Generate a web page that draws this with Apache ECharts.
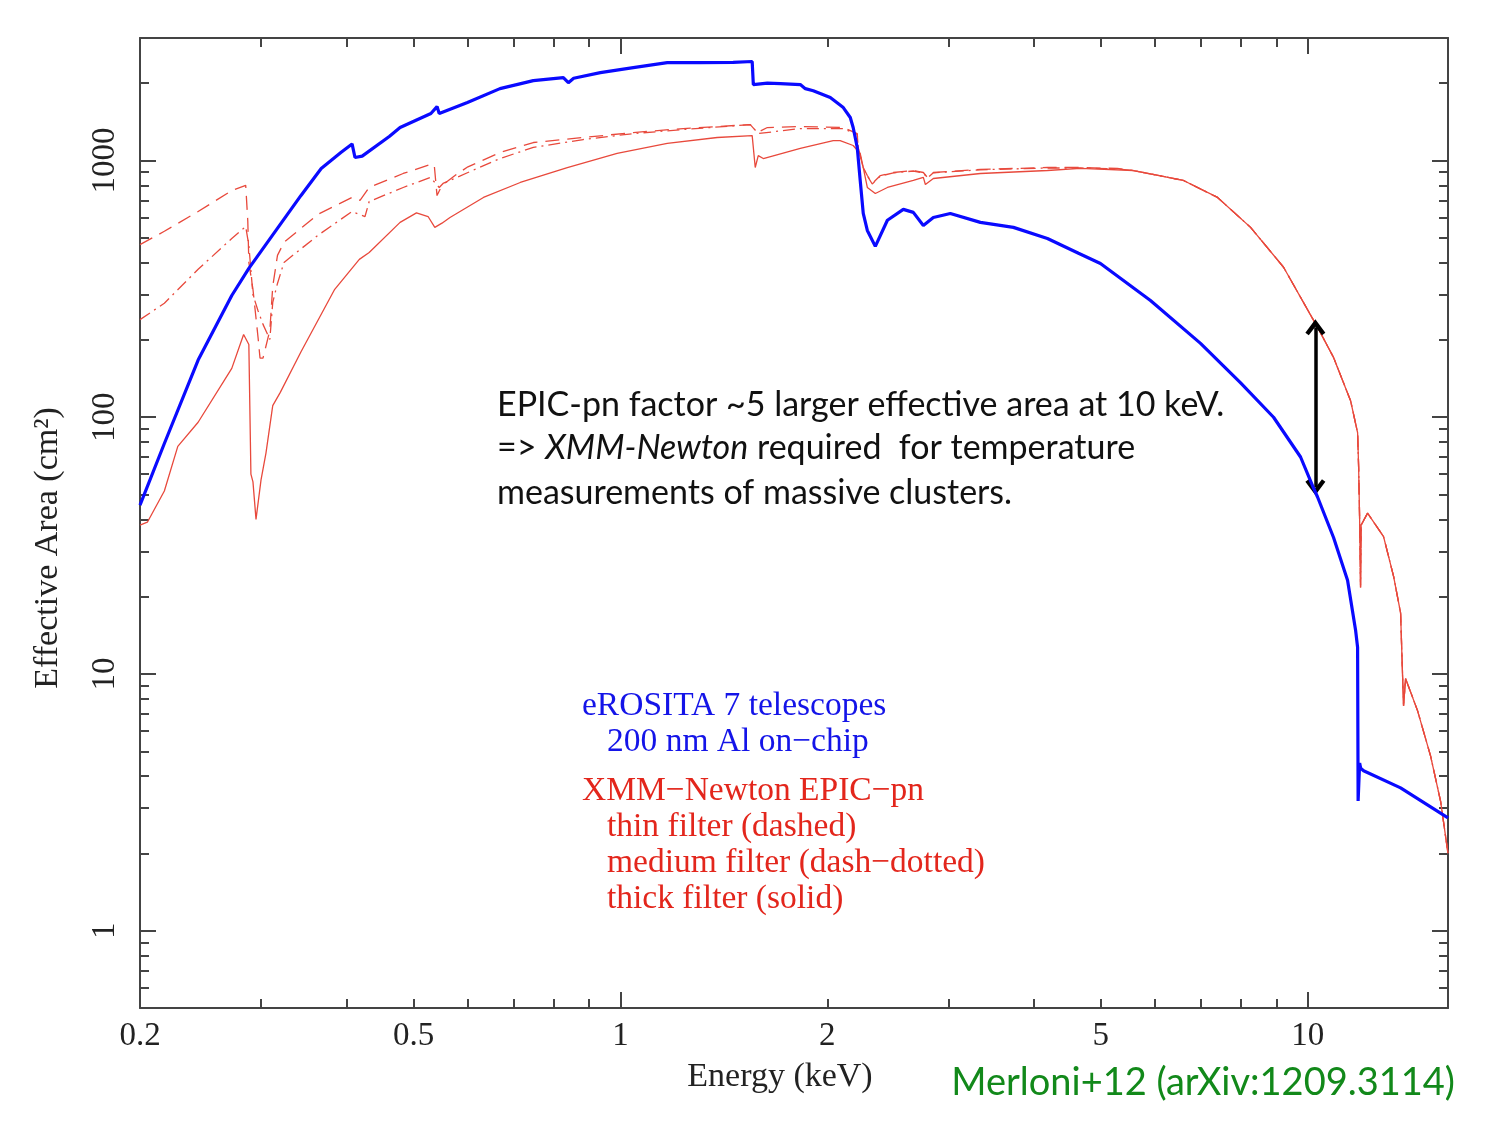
<!DOCTYPE html>
<html>
<head>
<meta charset="utf-8">
<script src="https://cdn.jsdelivr.net/npm/echarts@6.0.0/dist/echarts.min.js"></script>
<style>
html,body{margin:0;padding:0;background:#fff}
#main{width:1500px;height:1125px}
</style>
</head>
<body>
<div id="main"></div>
<script>
// eROSITA, 7 telescopes, 200 nm Al on-chip
var eroE = [0.2, 0.217, 0.243, 0.272, 0.288, 0.305, 0.343, 0.367, 0.392, 0.407, 0.411, 0.421, 0.461, 0.478, 0.53, 0.541, 0.545, 0.599, 0.668, 0.747, 0.826, 0.84, 0.855, 0.935, 1.044, 1.17, 1.307, 1.459, 1.555, 1.561, 1.636, 1.709, 1.827, 1.858, 1.908, 2.02, 2.11, 2.16, 2.181, 2.211, 2.233, 2.256, 2.287, 2.349, 2.446, 2.58, 2.668, 2.759, 2.853, 3.02, 3.34, 3.731, 4.181, 4.64, 4.994, 5.905, 6.983, 7.987, 8.919, 9.763, 10.197, 10.335, 10.904, 11.428, 11.74, 11.819, 11.84, 11.9, 11.94, 12.058, 13.65, 16];
var eroA = [45.5, 79, 167, 298, 380, 471, 731, 931, 1074, 1160, 1027, 1040, 1240, 1344, 1525, 1622, 1524, 1683, 1905, 2047, 2104, 2010, 2090, 2200, 2300, 2405, 2405, 2410, 2430, 1975, 2000, 1992, 1975, 1905, 1870, 1758, 1607, 1470, 1344, 1124, 836, 622, 534, 463, 585, 645, 628, 558, 600, 622, 574, 549, 497, 435, 397, 285, 194, 136, 100, 70, 53, 48.9, 34, 23.2, 14.8, 12.7, 3.2, 4.5, 4.3, 4.2, 3.6, 2.75];

// XMM-Newton EPIC-pn, common high-energy part of all three filters
var pnTailE = [6.596, 7.393, 8.258, 9.223, 10.335, 10.904, 11.544, 11.82, 11.86, 11.9, 11.937, 11.96, 12.221, 12.893, 13.334, 13.65, 13.742, 13.787, 13.879, 14.447, 15.091, 15.606, 16];
var pnTailA = [836, 718, 549, 384, 224, 171, 116, 87, 64, 40, 21.7, 38, 42.3, 34.3, 24, 17.3, 9.8, 7.5, 9.6, 7.2, 4.8, 3.2, 2.0];

// thin filter (dashed)
var thinE = [0.2, 0.217, 0.243, 0.272, 0.285, 0.287, 0.288, 0.292, 0.297, 0.299, 0.302, 0.309, 0.312, 0.317, 0.324, 0.363, 0.407, 0.418, 0.431, 0.483, 0.529, 0.536, 0.541, 0.55, 0.58, 0.6, 0.668, 0.747, 0.883, 1.044, 1.234, 1.545, 1.582, 1.636, 1.827, 2.11, 2.211, 2.218, 2.256, 2.287, 2.325, 2.389, 2.496, 2.668, 2.759, 2.797, 2.853, 3.34, 4.181, 4.671, 5.286, 5.577];
var thinA = [470, 530, 633, 764, 800, 579, 401, 315, 205, 170, 170, 218, 323, 427, 480, 617, 718, 700, 785, 890, 965, 960, 730, 800, 890, 945, 1074, 1175, 1229, 1285, 1332, 1380, 1285, 1344, 1356, 1344, 1273, 1124, 939, 874, 814, 874, 898, 914, 898, 859, 898, 923, 939, 939, 931, 914];

// medium filter (dash-dotted)
var medE = [0.2, 0.217, 0.243, 0.272, 0.285, 0.288, 0.292, 0.297, 0.302, 0.309, 0.312, 0.317, 0.324, 0.363, 0.407, 0.425, 0.431, 0.483, 0.529, 0.545, 0.552, 0.6, 0.668, 0.747, 0.883, 1.044, 1.234, 1.545, 1.587, 1.827, 2.11, 2.211, 2.218, 2.256, 2.287, 2.325, 2.389, 2.496, 2.668, 2.759, 2.797, 2.853, 3.34, 4.181, 4.671, 5.286, 5.577];
var medA = [240, 278, 377, 497, 553, 467, 300, 260, 230, 201, 280, 332, 401, 511, 633, 605, 692, 785, 859, 785, 814, 898, 1018, 1124, 1207, 1273, 1320, 1380, 1273, 1332, 1332, 1265, 1120, 935, 870, 810, 870, 895, 910, 895, 855, 895, 920, 935, 935, 928, 914];

// thick filter (solid)
var thickE = [0.2, 0.205, 0.217, 0.227, 0.243, 0.272, 0.283, 0.288, 0.29, 0.292, 0.295, 0.3, 0.305, 0.312, 0.32, 0.343, 0.384, 0.417, 0.431, 0.478, 0.505, 0.525, 0.537, 0.55, 0.565, 0.632, 0.715, 0.837, 0.989, 1.17, 1.383, 1.555, 1.571, 1.587, 1.614, 1.827, 2.04, 2.088, 2.181, 2.233, 2.256, 2.287, 2.349, 2.446, 2.668, 2.759, 2.778, 2.853, 3.34, 4.181, 4.671, 5.577];
var thickA = [38, 39, 51.6, 77, 95.6, 155, 210, 192, 60, 56, 40, 57, 72.5, 111, 125, 180, 315, 412, 438, 574, 625, 605, 549, 570, 600, 718, 821, 939, 1065, 1165, 1229, 1250, 939, 1045, 1018, 1114, 1196, 1196, 1144, 1065, 939, 785, 744, 785, 836, 859, 806, 851, 890, 914, 931, 914];

// arrow at 10 keV
var arrowE = 10.26;
var arrowA = [224, 53.4];

// axes
var xRange = [0.2, 16];
var yRange = [0.5, 3000];
var xTickLabels = [0.2, 0.5, 1, 2, 5, 10];
var xMajorTicks = [1, 10];
var xMinorTicks = [0.3, 0.4, 0.5, 0.6, 0.7, 0.8, 0.9, 2, 3, 4, 5, 6, 7, 8, 9];
var yTickLabels = [1, 10, 100, 1000];
var yMajorTicks = [1, 10, 100, 1000];
var yMinorTicks = [0.6, 0.7, 0.8, 0.9, 2, 3, 4, 5, 6, 7, 8, 9, 20, 30, 40, 50, 60, 70, 80, 90, 200, 300, 400, 500, 600, 700, 800, 900, 2000];

var lg = function(v){ return Math.log10(v); };
function pts(E, A){
	return E.map(function(e, i){ return [lg(e), lg(A[i])]; });
}
var fmt = function(v){ return String(+Math.pow(10, v).toPrecision(3)); };

var serif = '"Liberation Serif", "Times New Roman", serif';
var sans = 'Lato, "Open Sans", sans-serif';
var frame = '#444';
var red = '#e8493c';
var txtRed = '#e3261c';
var blue = '#0a0aff';

function axis(dim, pos, ticks, len, withLine, labels){
	var range = dim == 'x' ? xRange : yRange;
	return {
		type: 'value',
		position: pos,
		min: lg(range[0]),
		max: lg(range[1]),
		splitLine: {show: false},
		axisLine: {show: withLine, onZero: false, lineStyle: {color: frame, width: 2}},
		axisTick: {show: true, inside: true, length: len, customValues: ticks.map(lg), lineStyle: {color: frame, width: 2}},
		axisLabel: labels ? {
			customValues: labels.map(lg),
			formatter: fmt,
			fontFamily: serif,
			fontSize: 33,
			color: '#222',
			margin: dim == 'x' ? 12 : 18,
			rotate: dim == 'x' ? 0 : 90
		} : {show: false}
	};
}

var myChart = echarts.init(document.getElementById('main'));
var option = {
	animation: false,
	backgroundColor: '#fff',
	grid: {left: 140, right: 52, top: 38, bottom: 117, containLabel: false, outerBoundsMode: 'none'},
	xAxis: [
		axis('x', 'bottom', xMajorTicks, 16, true, xTickLabels),
		axis('x', 'bottom', xMinorTicks, 9, false),
		axis('x', 'top', xMajorTicks, 16, true),
		axis('x', 'top', xMinorTicks, 9, false)
	],
	yAxis: [
		axis('y', 'left', yMajorTicks, 16, true, yTickLabels),
		axis('y', 'left', yMinorTicks, 9, false),
		axis('y', 'right', yMajorTicks, 16, true),
		axis('y', 'right', yMinorTicks, 9, false)
	],
	series: [
		{
			name: 'thick filter', type: 'line', symbol: 'none', silent: true,
			data: pts(thickE.concat(pnTailE), thickA.concat(pnTailA)),
			lineStyle: {color: red, width: 1.3}
		},
		{
			name: 'medium filter', type: 'line', symbol: 'none', silent: true,
			data: pts(medE.concat(pnTailE), medA.concat(pnTailA)),
			lineStyle: {color: red, width: 1.3, type: [12, 5, 2, 5]}
		},
		{
			name: 'thin filter', type: 'line', symbol: 'none', silent: true,
			data: pts(thinE.concat(pnTailE), thinA.concat(pnTailA)),
			lineStyle: {color: red, width: 1.3, type: [14, 8]}
		},
		{
			name: 'eROSITA', type: 'line', symbol: 'none', silent: true,
			data: pts(eroE, eroA),
			lineStyle: {color: blue, width: 3.2},
			z: 5
		},
		{
			name: 'arrow', type: 'line', data: [], silent: true,
			markLine: {
				silent: true,
				symbol: ['path://M5,0 L10,7.5 L8.3,9 L5,4.2 L1.7,9 L0,7.5 Z', 'path://M5,0 L10,7.5 L8.3,9 L5,4.2 L1.7,9 L0,7.5 Z'],
				symbolSize: [20, 16],
				label: {show: false},
				lineStyle: {color: '#000', width: 3.5, type: 'solid'},
				data: [[{coord: [lg(arrowE), lg(arrowA[0])]}, {coord: [lg(arrowE), lg(arrowA[1])]}]]
			},
			z: 6
		}
	],
	graphic: [
		{type: 'text', x: 780, y: 1077, style: {text: 'Energy (keV)', font: '34px ' + serif, fill: '#222', align: 'center', verticalAlign: 'middle', textAlign: 'center', textVerticalAlign: 'middle'}},
		{type: 'text', x: 48, y: 548, rotation: Math.PI / 2, style: {text: 'Effective Area (cm\u00b2)', font: '34px ' + serif, fill: '#222', align: 'center', verticalAlign: 'middle', textAlign: 'center', textVerticalAlign: 'middle'}},
		{type: 'text', x: 582, y: 706, style: {text: 'eROSITA 7 telescopes', font: '33.5px ' + serif, fill: '#1414e8', verticalAlign: 'middle', textVerticalAlign: 'middle'}},
		{type: 'text', x: 607, y: 742, style: {text: '200 nm Al on\u2212chip', font: '33.5px ' + serif, fill: '#1414e8', verticalAlign: 'middle', textVerticalAlign: 'middle'}},
		{type: 'text', x: 582, y: 791, style: {text: 'XMM\u2212Newton EPIC\u2212pn', font: '33.5px ' + serif, fill: txtRed, verticalAlign: 'middle', textVerticalAlign: 'middle'}},
		{type: 'text', x: 607, y: 827, style: {text: 'thin filter (dashed)', font: '33.5px ' + serif, fill: txtRed, verticalAlign: 'middle', textVerticalAlign: 'middle'}},
		{type: 'text', x: 607, y: 863, style: {text: 'medium filter (dash\u2212dotted)', font: '33.5px ' + serif, fill: txtRed, verticalAlign: 'middle', textVerticalAlign: 'middle'}},
		{type: 'text', x: 607, y: 899, style: {text: 'thick filter (solid)', font: '33.5px ' + serif, fill: txtRed, verticalAlign: 'middle', textVerticalAlign: 'middle'}},
		{type: 'text', x: 497, y: 405, style: {text: 'EPIC-pn factor ~5 larger effective area at 10 keV.', font: '34px ' + sans, fill: '#111', verticalAlign: 'middle', textVerticalAlign: 'middle'}},
		{type: 'text', x: 497, y: 448, style: {
			text: '=> {i|XMM-Newton} required  for temperature',
			font: '34px ' + sans, fontSize: 34, fontFamily: sans, fill: '#111',
			verticalAlign: 'middle', textVerticalAlign: 'middle',
			rich: {i: {fontStyle: 'italic', fontSize: 34, fontFamily: sans, fill: '#111'}}
		}},
		{type: 'text', x: 497, y: 493, style: {text: 'measurements of massive clusters.', font: '34px ' + sans, fill: '#111', verticalAlign: 'middle', textVerticalAlign: 'middle'}},
		{type: 'text', x: 1455, y: 1083, style: {text: 'Merloni+12 (arXiv:1209.3114)', font: '38px ' + sans, fill: '#12891a', align: 'right', verticalAlign: 'middle', textAlign: 'right', textVerticalAlign: 'middle'}}
	]
};
myChart.setOption(option);
</script>
</body>
</html>
